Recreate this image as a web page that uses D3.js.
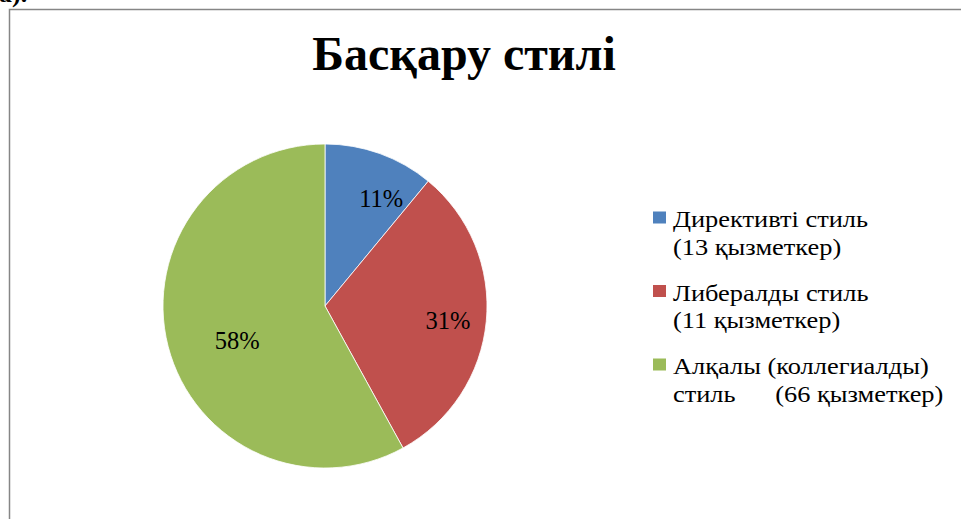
<!DOCTYPE html>
<html>
<head>
<meta charset="utf-8">
<script src="https://cdn.jsdelivr.net/npm/d3@7"></script>
<style>
  html, body { margin: 0; padding: 0; background: #fff; }
  svg { display: block; }
</style>
</head>
<body>
<svg id="chart" width="961" height="519"></svg>
<script>
// ---- data ----
const title = "Басқару стилі";
const categories = ["Директивті стиль", "Либералды стиль", "Алқалы (коллегиалды)"];
const legendSecondLines = ["(13 қызметкер)", "(11 қызметкер)", "стиль\u00A0\u00A0\u00A0\u00A0\u00A0\u00A0(66 қызметкер)"];
const percentValues = [11, 31, 58];
const percentLabels = ["11%", "31%", "58%"];

// ---- layout / style ----
const colors = ["#4F81BD", "#C0504D", "#9BBB59"];
const W = 961, H = 519;
const cx = 325, cy = 306, R = 162;
const labelNudge = [[15, 7], [2, 3], [30, 4]];
const serif = "'Liberation Serif', 'Times New Roman', serif";

const svg = d3.select("#chart");

// clipped caption above frame
svg.append("text")
  .attr("x", -1).attr("y", 2)
  .attr("font-family", serif)
  .attr("font-size", 26).attr("font-weight", "bold")
  .attr("fill", "#000")
  .text("а).");

// chart frame (extends past right/bottom edges)
svg.append("path")
  .attr("d", `M9.5,${H + 5} L9.5,9.5 L${W + 5},9.5`)
  .attr("fill", "none")
  .attr("stroke", "#868686")
  .attr("stroke-width", 1.5);

// title
svg.append("text")
  .attr("x", 464).attr("y", 70)
  .attr("text-anchor", "middle")
  .attr("font-family", serif)
  .attr("font-size", 48).attr("font-weight", "bold")
  .attr("fill", "#000")
  .text(title);

// pie
const pie = d3.pie().sort(null).value(d => d);
const arcs = pie(percentValues);
const arc = d3.arc().innerRadius(0).outerRadius(R);
const labelArc = d3.arc().innerRadius(R * 0.75).outerRadius(R * 0.75);

const g = svg.append("g").attr("transform", `translate(${cx},${cy})`);
g.selectAll("path.slice")
  .data(arcs)
  .join("path")
  .attr("class", "slice")
  .attr("d", arc)
  .attr("fill", (d, i) => colors[i])
  .attr("stroke", "#fff")
  .attr("stroke-width", 0.8)
  .attr("stroke-linejoin", "round");

g.selectAll("text.pct")
  .data(arcs)
  .join("text")
  .attr("class", "pct")
  .attr("x", (d, i) => labelArc.centroid(d)[0] + labelNudge[i][0])
  .attr("y", (d, i) => labelArc.centroid(d)[1] + labelNudge[i][1])
  .attr("text-anchor", "middle")
  .attr("dominant-baseline", "central")
  .attr("font-family", serif)
  .attr("font-size", 24.5)
  .attr("fill", "#000")
  .text((d, i) => percentLabels[i]);

// legend
const legendX = 653, legendTextX = 673, legendY0 = 227.5, entryGap = 73.5, lineH = 27.5;
const lg = svg.append("g");
categories.forEach((c, i) => {
  const by = legendY0 + i * entryGap;
  lg.append("rect")
    .attr("x", legendX).attr("y", by - 16)
    .attr("width", 13).attr("height", 12)
    .attr("fill", colors[i]);
  const t = lg.append("text")
    .attr("transform", `translate(${legendTextX},0) scale(1.1,1)`)
    .attr("font-family", serif)
    .attr("font-size", 24)
    .attr("fill", "#000");
  t.append("tspan").attr("x", 0).attr("y", by).text(c);
  t.append("tspan").attr("x", 0).attr("y", by + lineH).text(legendSecondLines[i]);
});
</script>
</body>
</html>
